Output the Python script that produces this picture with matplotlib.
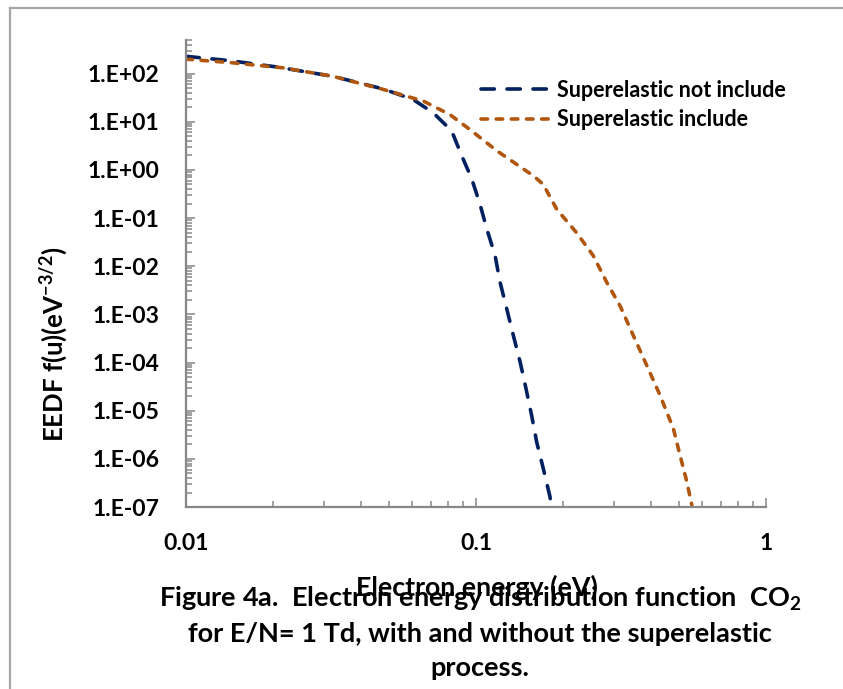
import math
import matplotlib
matplotlib.use("Agg")
import matplotlib.pyplot as plt
from matplotlib.ticker import FuncFormatter, LogLocator, FixedLocator, NullFormatter
from matplotlib.lines import Line2D

# Electron energy distribution function, CO2 at E/N = 1 Td
energy_no_se = [0.0100, 0.0142, 0.0205, 0.0321, 0.0479, 0.0607, 0.0711, 0.0824,
                0.0892, 0.0967, 0.1032, 0.109, 0.1164, 0.121, 0.1277, 0.1346,
                0.142, 0.1487, 0.1556, 0.162, 0.1706, 0.1799, 0.182]
eedf_no_se = [229, 186, 138, 88, 48, 29, 15.5, 6.5,
              2.0, 0.65, 0.195, 0.059, 0.0166, 4.7e-3, 1.29e-3, 3.6e-4,
              1.02e-4, 2.9e-5, 7.9e-6, 2.2e-6, 6.3e-7, 1.64e-7, 1.0e-7]

energy_se = [0.0100, 0.0142, 0.0216, 0.0321, 0.0479, 0.0658, 0.0813, 0.0953,
             0.118, 0.158, 0.1706, 0.1898, 0.222, 0.2537, 0.282, 0.314,
             0.349, 0.388, 0.431, 0.479, 0.505, 0.533, 0.555]
eedf_se = [200, 170, 132, 88, 47, 27, 14.1, 6.9,
           2.5, 0.75, 0.5, 0.153, 0.050, 0.0166, 4.7e-3, 1.5e-3,
           3.6e-4, 8.7e-5, 2.1e-5, 4.3e-6, 1.2e-6, 3.4e-7, 1.1e-7]

series_labels = ["Superelastic not include", "Superelastic include"]
x_ticks = [0.01, 0.1, 1]
x_tick_labels = ["0.01", "0.1", "1"]
y_ticks = [1e2, 1e1, 1e0, 1e-1, 1e-2, 1e-3, 1e-4, 1e-5, 1e-6, 1e-7]

plt.rcParams["font.family"] = ["Lato", "DejaVu Sans"]
plt.rcParams["font.weight"] = "bold"
plt.rcParams["mathtext.fontset"] = "custom"
plt.rcParams["mathtext.rm"] = "Lato:bold"
plt.rcParams["mathtext.it"] = "Lato:bold"
plt.rcParams["mathtext.bf"] = "Lato:bold"

W, H = 843, 689
fig = plt.figure(figsize=(W / 100, H / 100), dpi=100)

# outer frame (top and left edges visible)
frame_col = "#a6a6a6"
fig.add_artist(Line2D([10 / W, 1.0], [1 - 8 / H, 1 - 8 / H], color=frame_col, lw=1.6,
                      transform=fig.transFigure))
fig.add_artist(Line2D([10 / W, 10 / W], [0.0, 1 - 8 / H], color=frame_col, lw=1.6,
                      transform=fig.transFigure))

left, right, top, bottom = 186, 766, 40, 507
ax = fig.add_axes([left / W, 1 - bottom / H, (right - left) / W, (bottom - top) / H])

blue = "#002060"
orange = "#B0560E"
ax.plot(energy_no_se, eedf_no_se, color=blue, lw=2.6, dashes=(3.7, 3.5),
        dash_capstyle="round", label=series_labels[0])
ax.plot(energy_se, eedf_se, color=orange, lw=2.6, dashes=(1.8, 2.4),
        dash_capstyle="round", label=series_labels[1])

ax.set_xscale("log")
ax.set_yscale("log")
ax.set_xlim(0.01, 1)
ax.set_ylim(1e-7, 500)

for side in ("top", "right"):
    ax.spines[side].set_visible(False)
grey = "#878787"
for side in ("left", "bottom"):
    ax.spines[side].set_color(grey)
    ax.spines[side].set_linewidth(1.6)

ax.xaxis.set_major_locator(FixedLocator(x_ticks))
ax.set_xticklabels(x_tick_labels)
ax.xaxis.set_minor_locator(LogLocator(base=10, subs=range(2, 10)))
ax.xaxis.set_minor_formatter(NullFormatter())
ax.yaxis.set_major_locator(FixedLocator(y_ticks))
ax.yaxis.set_major_formatter(FuncFormatter(lambda v, p: "1.E%+03d" % round(math.log10(v))))
ax.yaxis.set_minor_locator(LogLocator(base=10, subs=range(2, 10), numticks=20))
ax.yaxis.set_minor_formatter(NullFormatter())

ax.tick_params(which="both", direction="in", color=grey, width=1.1, labelsize=16.5,
               labelcolor="black")
ax.tick_params(which="major", length=6.5)
ax.tick_params(which="minor", length=4.5)
ax.tick_params(axis="y", which="major", pad=19)
ax.tick_params(axis="x", which="major", pad=19)
for lab in ax.get_xticklabels() + ax.get_yticklabels():
    lab.set_fontweight("bold")

ax.set_ylabel(r"EEDF f(u)(eV$^{\mathrm{-3/2}}$)", fontsize=18.5, fontweight="bold",
              labelpad=0)
ax.yaxis.set_label_coords(70 / W, 0.5, transform=fig.transFigure)

leg = ax.legend(loc="upper left", frameon=False,
                fontsize=15.5, handlelength=3.2, handletextpad=0.35, labelspacing=0.4,
                borderaxespad=0)
leg.set_bbox_to_anchor((472 / W, 1 - 71 / H), transform=fig.transFigure)
for t in leg.get_texts():
    t.set_fontweight("bold")

fig.text(477 / W, 1 - 587 / H, "Electron energy (eV)", ha="center", va="center",
         fontsize=19.3, fontweight="bold")
fig.text(480 / W, 1 - 599 / H, r"Figure 4a.  Electron energy distribution function  CO$_{\mathrm{2}}$",
         ha="center", va="center", fontsize=19.5, fontweight="bold")
fig.text(480 / W, 1 - 634 / H, "for E/N= 1 Td, with and without the superelastic",
         ha="center", va="center", fontsize=19.5, fontweight="bold")
fig.text(480 / W, 1 - 668 / H, "process.", ha="center", va="center",
         fontsize=19.5, fontweight="bold")

fig.savefig("out.png", dpi=100)
